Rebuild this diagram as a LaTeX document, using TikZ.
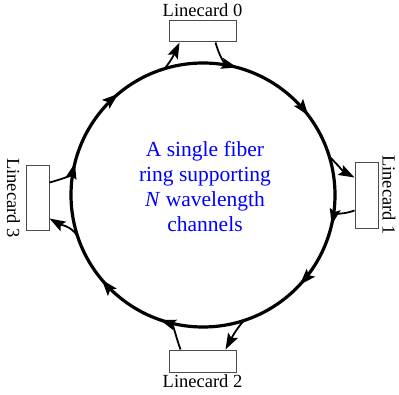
\documentclass[tikz,border=0pt]{standalone}
\usepackage{fontspec}
\setmainfont{Liberation Serif}
\usetikzlibrary{arrows.meta,decorations.markings}
\begin{document}
\begin{tikzpicture}[x=1pt,y=1pt,
  card/.style={draw=black!70, line width=1pt, fill=white,
    minimum width=67pt, minimum height=21pt, inner sep=0pt},
  cardv/.style={card, minimum width=23pt, minimum height=66pt},
  cardlabel/.style={font=\fontsize{18.5}{20}\selectfont, inner sep=0pt},
  link/.style={line width=1.8pt, -{Stealth[length=16pt,width=11pt,inset=3pt]}},
  ring/.style={line width=3.2pt, postaction={decorate},
    decoration={markings,
      mark=at position 0.147 with {\arrow{Stealth[length=16pt,width=11pt,inset=3pt]}},
      mark=at position 0.369 with {\arrow{Stealth[length=16pt,width=11pt,inset=3pt]}},
      mark=at position 0.639 with {\arrow{Stealth[length=16pt,width=11pt,inset=3pt]}},
      mark=at position 0.889 with {\arrow{Stealth[length=16pt,width=11pt,inset=3pt]}}}}
]
\useasboundingbox (0,0) rectangle (399,394);

% fiber ring, traversed clockwise
\coordinate (c) at (203,199);
\draw[ring] (c) ++(90:132) arc[start angle=90, end angle=-270, radius=132];

% linecards
\node[card] (lc0) at (202.5,362.5) {};
\node[card, minimum height=22pt] (lc2) at (202.5,33) {};
\node[cardv] (lc1) at (366.5,198) {};
\node[cardv, minimum height=65pt] (lc3) at (37.5,195.5) {};

\node[cardlabel, anchor=base] (lab0) at (202.5,377) {Linecard 0};
\node[cardlabel, anchor=base] (lab2) at (202.5,7) {Linecard 2};
\node[cardlabel, rotate=-90] (lab1) at (389,199) {Linecard 1};
\node[cardlabel, rotate=-90] (lab3) at (13.5,196) {Linecard 3};

% drop and add points on the ring
\path (c) ++(107:132) coordinate (i0);
\path (c) ++(75:132) coordinate (o0);
\path (c) ++(17:132) coordinate (i1);
\path (c) ++(-13:132) coordinate (o1);
\path (c) ++(288:132) coordinate (i2);
\path (c) ++(251:132) coordinate (o2);
\path (c) ++(198:132) coordinate (i3);
\path (c) ++(166:132) coordinate (o3);

% drop / add connectors
\draw[link] (i0) to[out=50, in=-115] ([xshift=11pt]lc0.south west);
\draw[link] ([xshift=-21pt]lc0.south east) to[out=-75, in=165] (o0);

\draw[link] (i1) to[out=-45, in=152] ([yshift=-15pt]lc1.north west);
\draw[link] ([yshift=19pt]lc1.south west) to[out=200, in=77] (o1);

\draw[link] (i2) to[out=230, in=62] ([xshift=-11pt]lc2.north east);
\draw[link] ([xshift=12pt]lc2.north west) to[out=110, in=-19] (o2);

\draw[link] (i3) to[out=125, in=-30] ([yshift=13pt]lc3.south east);
\draw[link] ([yshift=-17pt]lc3.north east) to[out=15, in=-104] (o3);

% caption inside the ring
\node[font=\fontsize{21.5}{25}\selectfont, text=blue, align=center] (caption)
  at (205,207) {A single fiber\\ring supporting\\\textit{N} wavelength\\channels};
\end{tikzpicture}
\end{document}
